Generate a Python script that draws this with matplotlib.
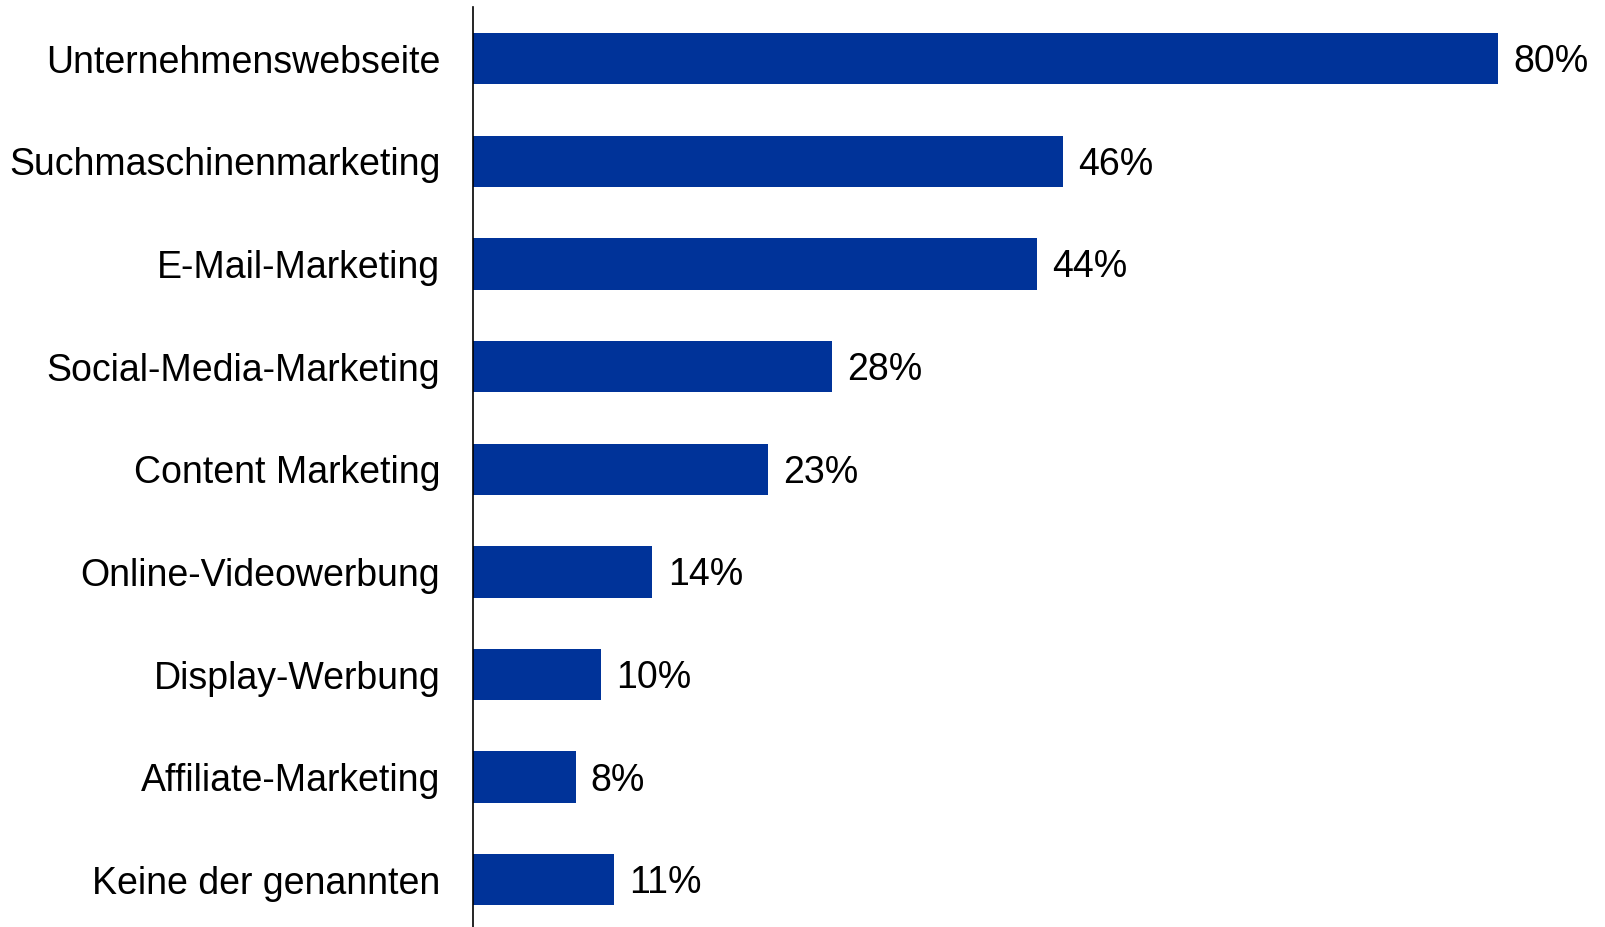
import matplotlib.pyplot as plt

plt.rcParams["font.family"] = ["Liberation Sans", "DejaVu Sans"]

categories = [
    "Unternehmenswebseite",
    "Suchmaschinenmarketing",
    "E-Mail-Marketing",
    "Social-Media-Marketing",
    "Content Marketing",
    "Online-Videowerbung",
    "Display-Werbung",
    "Affiliate-Marketing",
    "Keine der genannten",
]
shares = [80, 46, 44, 28, 23, 14, 10, 8, 11]

BAR_COLOR = "#003399"
FONT_SIZE = 27

fig = plt.figure(figsize=(16.06, 9.27), dpi=100)
ax = fig.add_axes([0.2945, 0.0, 0.7055, 0.992])

positions = list(range(len(categories)))
ax.barh(positions, shares, height=0.5, color=BAR_COLOR, zorder=2)

# Prozentwerte rechts neben den Balken
for pos, val in zip(positions, shares):
    ax.annotate(
        f"{val}%",
        xy=(val, pos),
        xytext=(11, -2.5),
        textcoords="offset points",
        ha="left",
        va="center",
        fontsize=FONT_SIZE,
        color="black",
    )

ax.set_yticks(positions)
ax.set_yticklabels(categories, fontsize=FONT_SIZE)
ax.tick_params(axis="y", length=0, pad=23.5)
ax.set_xticks([])

ax.set_xlim(0, 88.4)
ax.set_ylim(8.46, -0.5)

for side in ("top", "right", "bottom"):
    ax.spines[side].set_visible(False)
ax.spines["left"].set_linewidth(1.2)
ax.spines["left"].set_color("black")

fig.savefig("out.png", dpi=100)
